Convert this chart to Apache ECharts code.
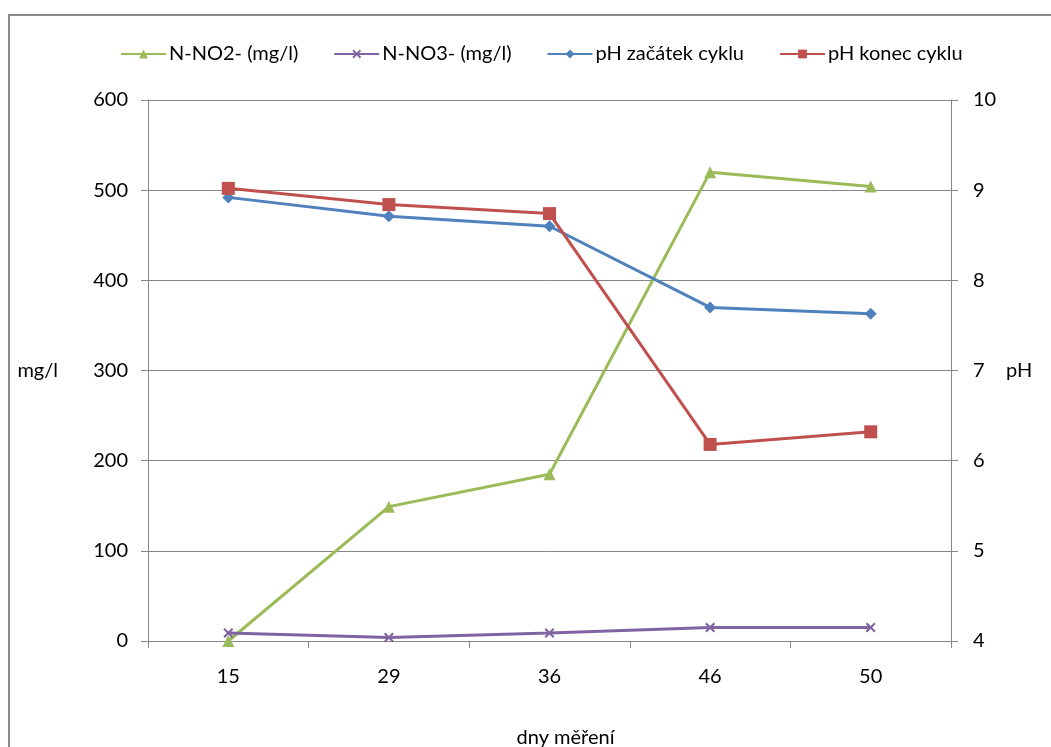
<!DOCTYPE html>
<html>
<head>
<meta charset="utf-8">
<script src="https://cdn.jsdelivr.net/npm/echarts@6/dist/echarts.min.js"></script>
<style>
html,body{margin:0;padding:0;background:#fff;}
#c{width:1051px;height:747px;}
</style>
</head>
<body>
<div id="c"></div>
<script>
const categories = ['15', '29', '36', '46', '50'];
const no2 = [0, 149, 185, 520, 504];
const no3 = [9, 4, 9, 15, 15];
const phStart = [8.92, 8.71, 8.60, 7.70, 7.63];
const phEnd = [9.02, 8.84, 8.74, 6.18, 6.32];
const leftTicks = [0, 600, 100];
const rightTicks = [4, 10, 1];

const FONT = 'Lato';
const FS = 20;
const xSym = 'path://M0,1.5 L1.5,0 L5,3.5 L8.5,0 L10,1.5 L6.5,5 L10,8.5 L8.5,10 L5,6.5 L1.5,10 L0,8.5 L3.5,5 Z';

const chart = echarts.init(document.getElementById('c'), null, {renderer: 'canvas'});
chart.setOption({
  animation: false,
  backgroundColor: '#fff',
  textStyle: {fontFamily: FONT},
  graphic: [{
    type: 'rect', shape: {x: 9, y: 15, width: 1200, height: 900},
    style: {fill: 'none', stroke: '#8a8a8a', lineWidth: 2}, silent: true
  }],
  legend: {
    top: 39, left: 115,
    itemWidth: 45, itemHeight: 11, itemGap: 35,
    textStyle: {fontFamily: FONT, fontSize: FS, color: '#000', padding: [0, 0, 0, -2]},
    data: ['N-NO2- (mg/l)', 'N-NO3- (mg/l)', 'pH začátek cyklu', 'pH konec cyklu']
  },
  grid: {left: 148, right: 100, top: 100, bottom: 106, containLabel: false, outerBoundsMode: 'none'},
  xAxis: {
    type: 'category', data: categories, boundaryGap: true,
    name: 'dny měření', nameLocation: 'middle', nameGap: 87,
    nameTextStyle: {fontFamily: FONT, fontSize: FS, color: '#000', verticalAlign: 'top', padding: [0, 0, 0, 32]},
    axisLine: {lineStyle: {color: '#868686', width: 1}},
    axisTick: {show: true, alignWithLabel: false, length: 7, lineStyle: {color: '#868686'}},
    axisLabel: {margin: 26, fontFamily: FONT, fontSize: FS, color: '#000'},
    splitLine: {show: false}
  },
  yAxis: [{
    type: 'value', min: leftTicks[0], max: leftTicks[1], interval: leftTicks[2],
    name: 'mg/l', nameLocation: 'middle', nameGap: 90, nameRotate: 0,
    nameTextStyle: {fontFamily: FONT, fontSize: FS, color: '#000', align: 'right', padding: [0, 0, 26, 0]},
    axisLine: {show: true, lineStyle: {color: '#868686', width: 1}},
    axisTick: {show: true, length: 7, lineStyle: {color: '#868686'}},
    axisLabel: {margin: 20, fontFamily: FONT, fontSize: FS, color: '#000'},
    splitLine: {show: true, lineStyle: {color: '#868686', width: 1}}
  }, {
    type: 'value', min: rightTicks[0], max: rightTicks[1], interval: rightTicks[2],
    position: 'right',
    name: 'pH', nameLocation: 'middle', nameGap: 55, nameRotate: 0,
    nameTextStyle: {fontFamily: FONT, fontSize: FS, color: '#000', align: 'left', padding: [0, 0, 0, 0]},
    axisLine: {show: true, lineStyle: {color: '#868686', width: 1}},
    axisTick: {show: true, length: 7, lineStyle: {color: '#868686'}},
    axisLabel: {margin: 22, fontFamily: FONT, fontSize: FS, color: '#000'},
    splitLine: {show: false}
  }],
  series: [{
    name: 'N-NO2- (mg/l)', type: 'line', yAxisIndex: 0, data: no2,
    symbol: 'triangle', symbolSize: 12, showAllSymbol: true,
    lineStyle: {color: '#9BBB59', width: 3}, itemStyle: {color: '#9BBB59'}
  }, {
    name: 'N-NO3- (mg/l)', type: 'line', yAxisIndex: 0, data: no3,
    symbol: xSym, symbolSize: 10, showAllSymbol: true,
    lineStyle: {color: '#8064A2', width: 3}, itemStyle: {color: '#8064A2'}
  }, {
    name: 'pH začátek cyklu', type: 'line', yAxisIndex: 1, data: phStart,
    symbol: 'diamond', symbolSize: 12, showAllSymbol: true,
    lineStyle: {color: '#4F81BD', width: 3}, itemStyle: {color: '#4F81BD'}
  }, {
    name: 'pH konec cyklu', type: 'line', yAxisIndex: 1, data: phEnd,
    symbol: 'rect', symbolSize: 13, showAllSymbol: true,
    lineStyle: {color: '#C0504D', width: 3}, itemStyle: {color: '#C0504D'}
  }]
});
</script>
</body>
</html>
